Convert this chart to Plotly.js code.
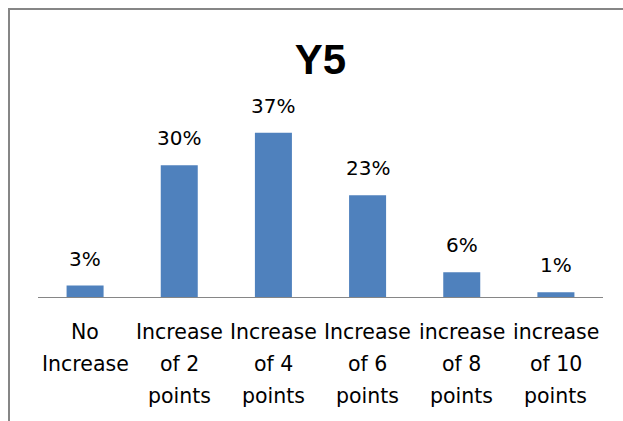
<!DOCTYPE html>
<html>
<head>
<meta charset="utf-8">
<script src="https://cdn.plot.ly/plotly-3.0.1.min.js"></script>
<style>
  html, body { margin: 0; padding: 0; background: #fff; overflow: hidden; width: 623px; height: 421px; }
  #frame { position: absolute; left: 8px; top: 8px; width: 800px; height: 600px; border-left: 2px solid #868686; border-top: 2px solid #868686; }
  #chart { position: absolute; left: 0; top: 0; width: 623px; height: 421px; }
</style>
</head>
<body>
<div id="frame"></div>
<div id="chart"></div>
<script>
const chartTitle = "Y5";
const categories = ["No<br>Increase", "Increase<br>of 2<br>points", "Increase<br>of 4<br>points", "Increase<br>of 6<br>points", "increase<br>of 8<br>points", "increase<br>of 10<br>points"];
const shares = [0.026, 0.298, 0.371, 0.230, 0.056, 0.011];
const labels = ["3%", "30%", "37%", "23%", "6%", "1%"];

const FONT = "DejaVu Sans, sans-serif";
const idx = categories.map((_, i) => i);

const annotations = [];
// value labels above bars
shares.forEach((v, i) => {
  annotations.push({
    x: i, y: v, xref: "x", yref: "y",
    text: labels[i], showarrow: false,
    yanchor: "middle", yshift: 27,
    font: { family: FONT, size: 20, color: "#000" }
  });
});
// category labels, one annotation per line for Excel-like line spacing
categories.forEach((c, i) => {
  const lines = c.split("<br>");
  lines.forEach((ln, k) => {
    annotations.push({
      x: i, y: 0, xref: "x", yref: "paper",
      text: ln, showarrow: false,
      yanchor: "middle", yshift: -35 - 32 * k,
      font: { family: FONT, size: 20.5, color: "#000" }
    });
  });
});

const trace = {
  type: "bar",
  x: idx,
  y: shares,
  marker: { color: "#4F81BD" },
  hoverinfo: "none"
};

const layout = {
  width: 623, height: 421,
  margin: { l: 38, r: 20, t: 120, b: 124 },
  paper_bgcolor: "rgba(0,0,0,0)",
  plot_bgcolor: "rgba(0,0,0,0)",
  bargap: 0.607,
  showlegend: false,
  title: {
    text: "<b>" + chartTitle + "</b>",
    x: 0.5, xanchor: "center", xref: "paper",
    y: 1 - 59 / 421, yanchor: "middle", yref: "container",
    font: { family: "Liberation Sans, Arial, sans-serif", size: 42, color: "#000" }
  },
  xaxis: {
    range: [-0.5, categories.length - 0.5],
    showticklabels: false, ticks: "",
    showgrid: false, zeroline: false,
    showline: true, linecolor: "#868686", linewidth: 1
  },
  yaxis: {
    range: [0, 0.4],
    showticklabels: false, ticks: "",
    showgrid: false, zeroline: false, showline: false
  },
  annotations: annotations
};

Plotly.newPlot("chart", [trace], layout, { staticPlot: true, displayModeBar: false });
</script>
</body>
</html>
